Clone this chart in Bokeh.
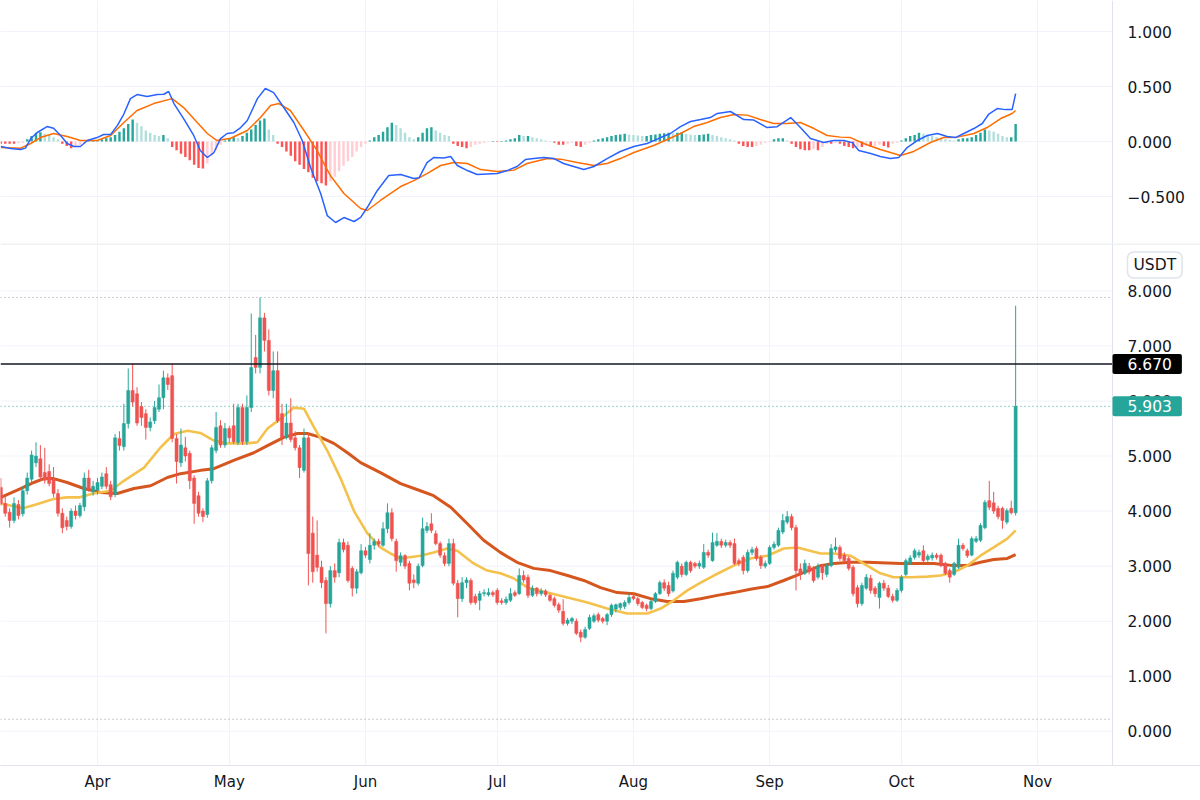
import numpy as np
import pandas as pd
from bokeh.plotting import figure
from bokeh.layouts import column
from bokeh.models import (ColumnDataSource, Span, Label, DatetimeTickFormatter,
                          FixedTicker, Range1d)
from bokeh.core.properties import value
from bokeh.embed import file_html
from bokeh.resources import INLINE

# ---------------- data (daily candles from 2021-03-10) ----------------
START = "2021-03-10"

open_ = [4.43,4.14,3.98,3.83,4.12,3.95,4.37,4.58,4.88,4.95,
 4.70,4.72,4.58,4.32,3.96,3.83,3.72,4.00,3.92,4.08,
 4.60,4.35,4.38,4.45,4.68,4.48,4.30,5.32,5.17,5.59,
 6.19,6.13,5.90,5.77,5.52,5.64,5.85,6.06,6.42,6.46,
 5.32,4.88,5.15,5.05,4.60,4.28,4.00,3.94,4.55,5.10,
 5.55,5.20,5.50,5.55,5.25,5.88,5.26,5.88,6.79,6.61,
 7.51,7.10,6.19,6.55,5.77,5.34,5.60,5.33,5.15,4.74,
 5.33,3.60,3.20,2.98,2.74,2.32,2.92,2.88,3.43,3.38,
 2.96,2.60,2.88,3.28,3.12,3.38,3.45,3.38,3.68,3.97,
 3.45,3.07,3.19,3.05,2.75,2.69,3.01,3.65,3.77,3.59,
 3.41,3.19,3.05,3.41,2.69,2.41,2.70,2.74,2.45,2.38,
 2.50,2.48,2.52,2.56,2.37,2.34,2.38,2.52,2.50,2.83,
 2.80,2.47,2.60,2.50,2.55,2.47,2.41,2.30,2.18,1.96,
 2.00,2.00,1.80,1.71,1.87,2.00,2.12,2.05,2.00,2.12,
 2.22,2.25,2.27,2.34,2.45,2.41,2.34,2.29,2.23,2.36,
 2.50,2.70,2.65,2.55,2.80,3.00,2.85,3.07,3.05,3.00,
 2.98,3.25,3.10,3.38,3.45,3.38,3.43,3.41,3.10,3.16,
 2.92,3.25,3.32,3.16,3.00,3.05,3.34,3.38,3.62,3.80,
 3.90,3.70,2.95,2.87,3.00,2.96,2.80,3.00,2.85,3.01,
 3.30,3.34,3.20,3.14,2.98,2.61,2.32,2.60,2.78,2.60,
 2.43,2.69,2.60,2.45,2.38,2.56,2.85,3.05,3.16,3.20,
 3.28,3.12,3.15,3.20,3.20,3.05,2.92,2.85,2.98,3.38,
 3.28,3.20,3.45,3.47,3.70,4.19,4.15,4.05,4.05,3.80,
 4.05,3.97]

high_ = [4.60,4.30,4.05,4.25,4.20,4.45,4.70,5.10,5.25,5.20,
 5.15,4.85,4.80,4.40,4.05,3.90,4.05,4.10,4.15,4.70,
 4.75,4.55,4.60,4.70,4.80,4.55,5.40,5.45,5.95,6.59,
 6.68,6.25,5.98,5.85,5.70,6.00,6.30,6.55,6.50,6.68,
 5.40,5.50,5.35,5.10,4.65,4.35,4.05,4.60,5.20,5.80,
 5.65,5.60,5.55,5.95,5.95,5.95,6.10,7.59,7.20,7.88,
 7.60,7.30,6.90,6.90,5.95,5.95,6.05,5.45,5.20,5.50,
 5.40,3.90,3.83,3.10,2.80,3.00,3.05,3.50,3.50,3.45,
 3.00,2.95,3.40,3.35,3.60,3.50,3.50,3.80,4.14,4.05,
 3.50,3.25,3.22,3.10,2.85,3.05,3.88,3.80,3.96,3.65,
 3.45,3.25,3.50,3.50,2.75,2.80,2.80,2.78,2.50,2.55,
 2.58,2.60,2.56,2.60,2.42,2.45,2.60,2.56,2.96,2.92,
 2.85,2.65,2.62,2.60,2.58,2.50,2.45,2.34,2.40,2.06,
 2.08,2.05,1.85,1.90,2.12,2.14,2.16,2.08,2.15,2.32,
 2.32,2.34,2.38,2.50,2.50,2.44,2.37,2.32,2.40,2.53,
 2.74,2.76,2.72,2.92,3.10,3.05,3.10,3.10,3.08,3.10,
 3.40,3.30,3.61,3.60,3.50,3.48,3.47,3.50,3.14,3.20,
 3.30,3.35,3.36,3.20,3.10,3.38,3.45,3.70,3.95,4.00,
 3.95,3.75,3.05,3.12,3.06,3.00,3.05,3.04,3.05,3.40,
 3.52,3.38,3.25,3.18,3.02,2.66,2.70,2.86,2.84,2.64,
 2.72,2.75,2.66,2.50,2.60,2.84,3.14,3.20,3.32,3.30,
 3.38,3.22,3.25,3.24,3.23,3.08,2.96,3.08,3.50,3.42,
 3.32,3.54,3.55,3.78,4.20,4.55,4.35,4.10,4.08,4.05,
 4.19,7.73]

low_ = [4.10,3.90,3.70,3.78,3.85,3.90,4.30,4.50,4.80,4.55,
 4.50,4.45,4.25,3.90,3.60,3.65,3.68,3.85,3.88,4.00,
 4.35,4.28,4.30,4.40,4.40,4.20,4.25,5.10,5.10,5.50,
 5.90,5.55,5.55,5.30,5.45,5.58,5.80,5.85,6.20,5.25,
 4.50,4.80,4.90,4.40,3.77,3.90,3.80,3.88,4.50,5.05,
 5.15,5.15,5.25,5.22,5.20,5.20,5.20,5.80,6.50,6.50,
 6.90,6.10,6.05,5.60,5.20,5.30,5.25,5.10,4.60,4.70,
 2.65,2.70,2.90,2.60,1.78,2.25,2.70,2.80,3.25,2.70,
 2.45,2.50,2.85,3.15,3.05,3.30,3.35,3.35,3.60,3.45,
 2.90,3.00,2.95,2.56,2.60,2.65,2.98,3.60,3.60,3.38,
 3.15,3.00,3.00,2.65,2.07,2.35,2.60,2.30,2.30,2.20,
 2.45,2.45,2.44,2.30,2.30,2.30,2.35,2.44,2.48,2.70,
 2.42,2.44,2.45,2.46,2.44,2.35,2.25,2.15,1.92,1.92,
 1.95,1.75,1.62,1.68,1.84,1.97,1.98,1.96,1.93,2.08,
 2.16,2.20,2.22,2.30,2.38,2.28,2.22,2.18,2.20,2.33,
 2.48,2.55,2.45,2.52,2.76,2.80,2.82,2.88,2.96,2.95,
 2.95,3.15,3.08,3.35,3.33,3.34,3.33,3.02,3.00,2.85,
 2.88,3.20,3.10,2.95,2.96,3.02,3.30,3.35,3.58,3.76,
 3.65,2.56,2.75,2.84,2.85,2.70,2.76,2.75,2.80,2.98,
 3.25,3.10,3.06,2.92,2.45,2.25,2.28,2.57,2.50,2.44,
 2.23,2.55,2.42,2.34,2.35,2.52,2.82,3.02,3.12,3.15,
 3.06,3.08,3.10,3.12,2.98,2.84,2.70,2.82,2.95,3.28,
 3.15,3.18,3.42,3.44,3.67,4.02,3.95,3.85,3.68,3.76,
 3.94,3.92]

close_ = [4.14,3.96,3.83,4.14,3.92,4.37,4.60,5.02,5.00,4.62,
 4.56,4.50,4.32,3.96,3.70,3.72,4.00,3.92,4.10,4.60,
 4.40,4.45,4.52,4.62,4.45,4.26,5.33,5.19,5.59,6.19,
 5.98,5.60,5.70,5.52,5.62,5.88,6.06,6.42,6.30,5.32,
 4.90,5.20,5.00,4.55,4.14,3.96,3.90,4.55,5.15,5.52,
 5.20,5.50,5.33,5.26,5.88,5.26,5.88,6.61,6.61,7.51,
 7.10,6.19,6.55,5.64,5.34,5.60,5.30,5.15,4.79,5.33,
 3.23,2.90,2.98,2.70,2.32,2.92,2.80,3.43,3.30,2.74,
 2.60,2.90,3.28,3.20,3.38,3.45,3.40,3.68,3.97,3.50,
 3.10,3.19,3.00,2.69,2.70,3.00,3.68,3.72,3.65,3.41,
 3.20,3.05,3.41,2.69,2.41,2.70,2.75,2.34,2.34,2.50,
 2.52,2.52,2.48,2.34,2.34,2.40,2.50,2.47,2.83,2.75,
 2.47,2.60,2.50,2.55,2.48,2.38,2.29,2.20,1.96,2.02,
 2.05,1.78,1.71,1.85,2.07,2.10,2.02,2.00,2.12,2.29,
 2.30,2.32,2.34,2.43,2.41,2.32,2.25,2.23,2.36,2.50,
 2.70,2.60,2.50,2.87,3.07,2.85,3.07,2.92,3.00,3.05,
 3.25,3.20,3.43,3.45,3.38,3.43,3.38,3.05,3.05,2.92,
 3.25,3.30,3.14,3.01,3.05,3.34,3.40,3.65,3.83,3.90,
 3.70,2.92,2.87,3.05,2.90,2.74,3.00,2.88,3.01,3.32,
 3.35,3.14,3.10,2.96,2.50,2.32,2.65,2.80,2.56,2.50,
 2.69,2.60,2.45,2.38,2.56,2.80,3.10,3.15,3.28,3.25,
 3.10,3.18,3.20,3.16,3.01,2.87,2.80,3.05,3.38,3.32,
 3.19,3.50,3.50,3.74,4.16,4.07,4.00,3.90,3.83,4.01,
 3.97,5.903]

# moving averages (day offset from START, value)
ma_fast_day = [0,5,8,12,15,18,21,25,28,32.6,36.3,39.4,42.5,45.4,48.5,51.5,56,58.4,60.7,63.7,
 66.7,69,71.3,74.3,77.3,80.4,83.4,86.4,88.7,91,95.5,98.5,101.6,103.9,107.6,110.7,113.7,116.7,119.9,124.4,
 129,133.5,138,142.6,147.2,150.2,153.2,156.3,159.3,162.3,166.8,170.6,174.5,178.2,181.3,186.6,189.6,193.4,197.2,200.2,
 203.2,207.1,210.9,213.9,216.9,220,223,226,229.1,231]
ma_fast = [4.14,4.05,4.12,4.22,4.25,4.25,4.32,4.37,4.55,4.79,5.15,5.40,5.46,5.42,5.28,5.23,5.23,5.25,5.50,5.68,
 5.88,5.86,5.52,5.10,4.60,4.00,3.60,3.34,3.23,3.14,3.19,3.25,3.32,3.28,3.05,2.92,2.87,2.78,2.61,2.52,
 2.43,2.34,2.23,2.14,2.14,2.23,2.38,2.56,2.70,2.83,3.01,3.14,3.19,3.32,3.34,3.23,3.23,3.19,3.01,2.87,
 2.80,2.80,2.81,2.83,2.89,3.01,3.19,3.34,3.50,3.65]

ma_slow_day = [0,4.5,7.5,9.8,12,15.1,18.9,22.7,26.5,30.3,34.1,37.9,40.9,45.5,48.5,53,57.6,60.7,64.4,67.5,
 69.8,72.8,75.8,78.9,81.9,86.4,91,95.5,98.5,102.4,106.2,109.9,113.7,117.5,121.3,125.1,129,132.7,136.5,140.3,
 144.1,147.9,151.7,155.5,159.3,163.1,166.8,170.6,174.5,178.2,182,186.6,189.6,193.4,197.2,204.8,212.4,216.9,220,223,
 226,229.1,231]
ma_slow = [4.25,4.41,4.52,4.59,4.59,4.52,4.41,4.34,4.32,4.41,4.46,4.61,4.68,4.74,4.77,4.92,5.06,5.19,5.34,5.41,
 5.41,5.34,5.23,5.06,4.88,4.70,4.50,4.37,4.28,4.07,3.77,3.47,3.25,3.07,2.96,2.92,2.83,2.74,2.61,2.52,
 2.50,2.41,2.36,2.36,2.41,2.47,2.52,2.58,2.63,2.74,2.86,3.01,3.05,3.07,3.07,3.05,3.05,3.01,3.01,3.07,
 3.12,3.14,3.21]

# MACD pane
macd_day = [0,2.2,4.5,5.6,6.8,8.3,10.5,12,13.6,15.1,16.6,18.1,19.7,21.9,23.4,25,26.5,28,29.5,31,
 33.3,35.6,37.1,38.2,39.4,41.6,43.9,45.4,47,48.5,50,51.5,53,54.6,56.1,58.4,60.2,62.1,64.4,66.7,
 68.6,70.5,72.8,74.3,76.2,78.1,80.4,81.9,83.4,85.7,88.3,91,94,95.2,97,98.6,100.8,102.4,103.9,106.2,
 108.4,110.7,113,115.3,117.5,119.4,121.3,123.6,125.9,128.1,130.4,132.7,135,138,141,144.1,147.1,150.2,152.4,154.7,
 157,159.3,161.5,163.1,166.1,169.1,171.4,174.4,176.7,179.8,182,184.3,187.3,189.6,191.9,193.8,195.3,198,200.2,202.5,
 204.4,206.3,208.6,210.9,213.2,215.4,217.3,219.2,221.5,223.4,224.9,226.8,228.7,230.2,231]
macd_val = [-0.045,-0.064,-0.073,-0.06,0.027,0.082,0.136,0.12,0.055,-0.018,-0.045,-0.045,0.009,0.036,0.064,0.064,0.145,0.25,0.39,0.427,
 0.41,0.427,0.43,0.455,0.345,0.209,0.055,-0.082,-0.145,-0.1,0.027,0.073,0.08,0.127,0.191,0.39,0.482,0.445,0.309,0.173,
 0.009,-0.236,-0.473,-0.673,-0.736,-0.691,-0.727,-0.69,-0.6,-0.445,-0.309,-0.3,-0.336,-0.33,-0.191,-0.145,-0.15,-0.136,-0.218,-0.264,
 -0.3,-0.295,-0.29,-0.264,-0.227,-0.164,-0.155,-0.145,-0.155,-0.2,-0.227,-0.255,-0.227,-0.155,-0.091,-0.045,-0.018,0.036,0.073,0.136,
 0.182,0.2,0.218,0.255,0.273,0.2,0.195,0.127,0.135,0.218,0.127,0.027,-0.009,0.01,0.01,-0.01,-0.082,-0.109,-0.136,-0.155,
 -0.145,-0.055,0.009,0.055,0.073,0.045,0.036,0.073,0.118,0.164,0.25,0.3,0.29,0.29,0.436]

sig_day = [0,4.5,6.8,9,12,15.1,18.1,21.9,25,28,31,34.8,39,41.6,44.7,47,49.2,52.3,56.1,59.1,
 61.4,63.3,65.9,69,72,75,78.1,81.9,83.4,86.4,91,94,97,100.1,103.1,106.2,109.2,113,116.8,119.8,
 124.4,127.4,131.2,135,138,141,144.1,148.6,151.7,154.7,157.7,160.8,163.8,166.9,169.9,172.9,175.9,179,182,185.1,
 188.1,191.1,193.4,196.4,200.2,204.8,207.8,211.6,214.6,217.7,221.5,224.5,227.6,230.2,231]
sig_val = [-0.055,-0.06,-0.018,0.036,0.073,0.045,0.009,0.01,0.055,0.173,0.282,0.345,0.39,0.309,0.173,0.073,0.009,0.03,0.1,0.218,
 0.327,0.345,0.282,0.1,-0.082,-0.309,-0.473,-0.609,-0.627,-0.536,-0.409,-0.355,-0.291,-0.218,-0.191,-0.2,-0.255,-0.273,-0.26,-0.2,
 -0.155,-0.16,-0.191,-0.218,-0.2,-0.155,-0.1,-0.036,0.018,0.073,0.136,0.173,0.218,0.245,0.24,0.2,0.164,0.164,0.173,0.118,
 0.055,0.04,0.036,-0.018,-0.073,-0.127,-0.09,-0.009,0.036,0.04,0.073,0.127,0.209,0.255,0.282]

hist = [-0.02,-0.02,-0.02,-0.02,-0.015,-0.01,0.02,0.05,0.08,0.085,
 0.07,0.06,0.04,0.02,-0.02,-0.04,-0.06,-0.05,-0.03,-0.02,
 0.005,0.01,0.01,0.02,0.03,0.04,0.06,0.09,0.12,0.16,
 0.20,0.17,0.14,0.10,0.08,0.06,0.05,0.06,0.03,-0.05,
 -0.08,-0.11,-0.14,-0.17,-0.21,-0.24,-0.245,-0.20,-0.13,-0.08,
 -0.03,0.01,0.03,0.04,0.03,0.05,0.08,0.11,0.15,0.19,
 0.21,0.11,0.06,-0.02,-0.05,-0.09,-0.13,-0.18,-0.21,-0.25,
 -0.28,-0.33,-0.36,-0.38,-0.40,-0.36,-0.32,-0.27,-0.22,-0.18,
 -0.14,-0.09,-0.05,-0.02,0.01,0.04,0.06,0.09,0.13,0.17,
 0.15,0.12,0.08,0.04,0.02,0.04,0.08,0.12,0.13,0.10,
 0.08,0.06,0.05,-0.02,-0.04,-0.05,-0.06,-0.05,-0.03,-0.02,
 -0.01,-0.005,0.005,-0.005,0.005,0.01,0.02,0.03,0.06,0.05,
 0.05,0.04,0.03,0.02,0.01,0.005,-0.01,-0.03,-0.03,-0.02,
 -0.01,-0.04,-0.05,-0.03,-0.01,0.01,0.02,0.03,0.04,0.05,
 0.06,0.065,0.07,0.065,0.06,0.055,0.05,0.05,0.06,0.065,
 0.07,0.075,0.08,0.075,0.08,0.085,0.07,0.065,0.06,0.06,
 0.065,0.07,0.06,0.05,0.04,0.03,0.02,0.01,-0.02,-0.04,
 -0.05,-0.05,-0.04,-0.03,-0.01,-0.005,0.02,0.03,0.03,0.01,
 -0.02,-0.05,-0.07,-0.08,-0.08,-0.07,-0.08,-0.05,-0.02,-0.02,
 -0.01,-0.02,-0.04,-0.05,-0.06,-0.05,-0.05,-0.04,-0.05,-0.04,
 -0.03,-0.04,-0.055,-0.02,-0.01,0.01,0.03,0.05,0.06,0.08,
 0.07,0.06,0.05,0.04,0.03,0.02,0.015,0.01,0.02,0.03,
 0.03,0.04,0.06,0.08,0.11,0.10,0.09,0.07,0.05,0.04,
 0.04,0.16]

last_price = 5.903
marked_price = 6.670
range_high = 7.88
range_low = 0.22
quote_ccy = "USDT"
price_ticks = [0, 1, 2, 3, 4, 5, 6, 7, 8]
macd_ticks = [-0.5, 0.0, 0.5, 1.0]
month_ticks = ["2021-04-01", "2021-05-01", "2021-06-01", "2021-07-01",
               "2021-08-01", "2021-09-01", "2021-10-01", "2021-11-01"]

# ---------------- styling / geometry ----------------
FONT = "DejaVu Sans"
TXT = "#131722"
GRID = "#f0f3fa"
BORDER = "#e0e3eb"
UP, DOWN = "#26a69a", "#ef5350"
DAY_MS = 86400000
W = 1200

t0 = pd.Timestamp(START)
def to_dt(d):
    return t0 + pd.to_timedelta(np.asarray(d, dtype=float), unit="D")
def ms(ts):
    return pd.Timestamp(ts).value / 1e6

dates = to_dt(np.arange(len(close_)))
X0 = to_dt([-0.08])[0]
X1 = to_dt([273.08])[0]
AXIS = to_dt([253.05])[0]          # where the price scale begins
x_range = Range1d(X0, X1)
month_ms = [ms(m) for m in month_ticks]

def fmt3(v):
    return ("\u2212" if v < 0 else "") + f"{abs(v):.3f}"

def price_scale(p, ticks):
    # horizontal grid up to the price scale, scale border and labels
    n = len(ticks)
    p.segment(x0=[X0] * n, y0=ticks, x1=[AXIS] * n, y1=ticks,
              line_color=GRID, line_width=1)
    p.add_layout(Span(location=ms(AXIS), dimension="height", line_color=BORDER, line_width=1))
    p.text(x=[AXIS] * n, y=ticks, text=[fmt3(t) for t in ticks], x_offset=15,
           text_baseline="middle", text_align="left", text_color=TXT,
           text_font=value(FONT), text_font_size=value("15.5px"))

def base_fig(height, **kw):
    p = figure(width=W, height=height, x_axis_type="datetime", y_axis_location=None,
               x_range=x_range, output_backend="svg", toolbar_location=None,
               min_border=0, **kw)
    p.outline_line_color = None
    p.background_fill_color = "white"
    p.border_fill_color = "white"
    p.ygrid.visible = False
    p.xgrid.ticker = FixedTicker(ticks=month_ms)
    p.xgrid.grid_line_color = GRID
    return p

# ---- MACD pane ----
p1 = base_fig(243, x_axis_location=None, y_range=Range1d(-0.927, 1.282))
price_scale(p1, macd_ticks)

hcol = []
for i, h in enumerate(hist):
    prev = hist[i - 1] if i else h
    if h >= 0:
        hcol.append("#26a69a" if h >= prev else "#b2dfdb")
    else:
        hcol.append("#ff5252" if h <= prev else "#ffcdd2")
hsrc = ColumnDataSource(dict(date=dates, h=hist, color=hcol))
p1.vbar(x="date", width=0.55 * DAY_MS, top="h", bottom=0, fill_color="color",
        line_color=None, source=hsrc)
p1.line(to_dt(sig_day), sig_val, line_color="#ff6d00", line_width=1.5)
p1.line(to_dt(macd_day), macd_val, line_color="#2962ff", line_width=1.5)

# ---- price pane ----
p2 = base_fig(557, y_range=Range1d(-0.62, 8.86), min_border_bottom=35)
xa = p2.xaxis[0]
xa.ticker = FixedTicker(ticks=month_ms)
xa.formatter = DatetimeTickFormatter(months="%b", days="%b")
xa.major_tick_out = 0
xa.major_tick_in = 0
xa.major_tick_line_color = None
xa.minor_tick_line_color = None
xa.axis_line_color = BORDER
xa.major_label_text_font = FONT
xa.major_label_text_font_size = "15px"
xa.major_label_text_color = TXT
xa.major_label_standoff = 7
price_scale(p2, price_ticks)

# pane separator
p2.add_layout(Span(location=8.86 - 0.009, dimension="width", line_color=BORDER, line_width=1))

# reference lines (stop at the price scale)
p2.segment(x0=[X0, X0], y0=[range_high, range_low], x1=[AXIS, AXIS], y1=[range_high, range_low],
           line_color="#9598a1", line_width=1, line_dash="1 3")
p2.segment(x0=[X0], y0=[last_price], x1=[AXIS], y1=[last_price],
           line_color=UP, line_width=1, line_dash="1 3")

# moving averages
p2.line(to_dt(ma_slow_day), ma_slow, line_color="#d5561e", line_width=3)
p2.line(to_dt(ma_fast_day), ma_fast, line_color="#f4c24c", line_width=2.6)

# candles
inc = [c >= o for o, c in zip(open_, close_)]
csrc = ColumnDataSource(dict(
    date=dates, high=high_, low=low_,
    top=[max(o, c) for o, c in zip(open_, close_)],
    bottom=[min(o, c) for o, c in zip(open_, close_)],
    color=[UP if u else DOWN for u in inc]))
p2.segment(x0="date", y0="high", x1="date", y1="low", line_color="color",
           line_width=1, source=csrc)
p2.vbar(x="date", width=0.7 * DAY_MS, top="top", bottom="bottom", fill_color="color",
        line_color="color", line_width=0.5, source=csrc)

p2.segment(x0=[X0], y0=[marked_price], x1=[AXIS], y1=[marked_price],
           line_color=TXT, line_width=1.5)

# price-scale badges
p2.add_layout(Label(x=ms(AXIS), y=marked_price, text=f"{marked_price:.3f}",
                    text_color="white", text_font=FONT, text_font_size="15.5px",
                    text_baseline="middle", text_align="left",
                    background_fill_color="#000000",
                    padding=dict(left=15, right=10, top=4, bottom=4), border_radius=2))
p2.add_layout(Label(x=ms(AXIS), y=last_price, text=f"{last_price:.3f}",
                    text_color="white", text_font=FONT, text_font_size="15.5px",
                    text_baseline="middle", text_align="left",
                    background_fill_color=UP,
                    padding=dict(left=15, right=10, top=4, bottom=4), border_radius=2))
p2.add_layout(Label(x=ms(AXIS), y=8.469, x_offset=15, text=quote_ccy,
                    text_color=TXT, text_font=FONT, text_font_size="15.5px",
                    text_baseline="middle", text_align="left",
                    background_fill_color="white", border_line_color=BORDER,
                    border_line_width=1.5,
                    padding=dict(left=6, right=6, top=4, bottom=4), border_radius=6))

layout = column(p1, p2, spacing=0)
open("out.html", "w").write(file_html(layout, INLINE))
